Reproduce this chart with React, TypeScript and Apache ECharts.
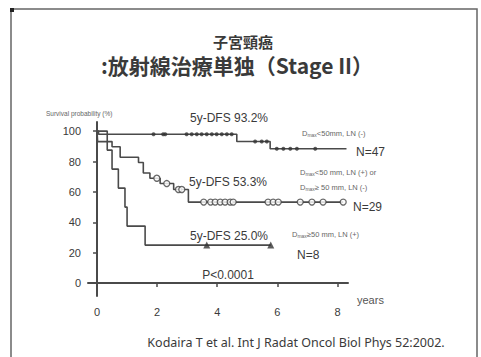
import React, { useEffect, useRef } from 'react';
import * as echarts from 'echarts';

const yTicks = [0, 20, 40, 60, 80, 100];
const xTicks = [0, 2, 4, 6, 8];

// Kaplan-Meier curves: [time (years), survival %] at each step
const curveN47: [number, number][] = [[0, 100], [0.05, 97.9], [4.65, 93.2], [5.76, 88.4], [8.3, 88.4]];
const censorN47 = [1.88, 2.2, 2.27, 2.98, 3.15, 3.32, 3.48, 3.65, 3.82, 3.98, 4.15, 4.32, 4.48, 5.26, 5.48, 5.65, 5.98, 6.2, 6.43, 6.65, 7.26];
const curveN29: [number, number][] = [[0, 100], [0.02, 93.1], [0.5, 89.7], [0.77, 82.8], [1.38, 79.3], [1.54, 72.4], [1.76, 69.0], [2.1, 65.5], [2.55, 61.6], [3.04, 53.3], [8.19, 53.3]];
const censorN29 = [1.99, 2.32, 2.71, 2.82, 3.55, 3.78, 3.93, 4.1, 4.26, 4.43, 4.53, 5.69, 5.86, 6.03, 6.76, 7.15, 7.52, 8.19];
const curveN8: [number, number][] = [[0, 100], [0.34, 87.5], [0.5, 75], [0.71, 62.5], [0.93, 50], [1.0, 37.5], [1.6, 25], [5.78, 25]];
const censorN8 = [3.65, 5.78];

const titleLine1 = '子宮頸癌';
const titleLine2 = ':放射線治療単独（Stage II）';
const citation = 'Kodaira T et al. Int J Radat Oncol Biol Phys 52:2002.';

function valueAt(curve: [number, number][], t: number): number {
  let v = curve[0][1];
  for (const [ct, cv] of curve) {
    if (ct <= t) v = cv;
  }
  return v;
}

const LINE = '#4a4a4a';
const TXT = '#3a3a3a';
const SANS = '"Liberation Sans", Arial, sans-serif';
const CJK = '"Noto Sans CJK JP", sans-serif';

export default function App() {
  const ref = useRef<HTMLDivElement>(null);
  useEffect(() => {
    if (!ref.current) return;
    const chart = echarts.init(ref.current, undefined, { renderer: 'svg' });
    const sub = (pre: string, post: string, size: number) => ({
      text: `{d|${pre}}{s|max}{n|${post}}`,
      rich: {
        d: { fontSize: size, fill: '#666', fontFamily: SANS },
        s: { fontSize: size - 2.5, fill: '#666', fontFamily: SANS, padding: [4, 0, 0, 0] },
        n: { fontSize: size, fill: '#666', fontFamily: SANS },
      },
    });
    chart.setOption({
      animation: false,
      backgroundColor: '#fff',
      grid: { left: 88, right: 133, top: 122, bottom: 61 },
      xAxis: {
        type: 'value',
        min: -0.3,
        max: 8.35,
        splitLine: { show: false },
        axisLine: { lineStyle: { color: LINE, width: 2 } },
        axisTick: { customValues: xTicks, length: 4, lineStyle: { color: LINE, width: 1.5 } },
        axisLabel: { customValues: xTicks, margin: 10, fontSize: 11, color: TXT, fontFamily: SANS },
      },
      yAxis: {
        type: 'value',
        min: -8.5,
        max: 106,
        splitLine: { show: false },
        axisLine: { show: true, lineStyle: { color: LINE, width: 2 } },
        axisTick: { show: true, customValues: yTicks, length: 4, lineStyle: { color: LINE, width: 1.5 } },
        axisLabel: { customValues: yTicks, margin: 7, fontSize: 11, color: TXT, fontFamily: SANS },
      },
      series: [
        { type: 'line', step: 'end', data: curveN47, symbol: 'none', lineStyle: { color: LINE, width: 1.6 }, z: 2 },
        { type: 'line', step: 'end', data: curveN29, symbol: 'none', lineStyle: { color: LINE, width: 1.6 }, z: 2 },
        { type: 'line', step: 'end', data: curveN8, symbol: 'none', lineStyle: { color: LINE, width: 1.6 }, z: 2 },
        {
          type: 'scatter', symbol: 'circle', symbolSize: 4,
          data: censorN47.map((t) => [t, valueAt(curveN47, t)]),
          itemStyle: { color: '#333' }, z: 3,
        },
        {
          type: 'scatter', symbol: 'circle', symbolSize: 6,
          data: censorN29.map((t) => [t, valueAt(curveN29, t)]),
          itemStyle: { color: '#fff', borderColor: '#444', borderWidth: 1.3 }, z: 3,
        },
        {
          type: 'scatter', symbol: 'triangle', symbolSize: 7,
          data: censorN8.map((t) => [t, valueAt(curveN8, t)]),
          itemStyle: { color: '#333' }, z: 3,
        },
      ],
      graphic: [
        { type: 'rect', shape: { x: 11, y: 9, width: 466, height: 360 }, style: { fill: 'none', stroke: '#666', lineWidth: 1.5 }, z: 0 },
        { type: 'rect', shape: { x: 10, y: 8, width: 4, height: 4 }, style: { fill: '#222' } },
        { type: 'text', x: 243, y: 41, style: { text: titleLine1, fontSize: 15, fontWeight: 'bold', fill: '#3a3a3a', fontFamily: CJK, align: 'center', verticalAlign: 'middle' } },
        { type: 'text', x: 237, y: 65, style: { text: titleLine2, fontSize: 21, fontWeight: 'bold', fill: '#3a3a3a', fontFamily: CJK, align: 'center', verticalAlign: 'middle' } },
        { type: 'text', x: 46, y: 113, style: { text: 'Survival probability (%)', fontSize: 6.5, fill: '#666', fontFamily: SANS, align: 'left', verticalAlign: 'middle' } },
        { type: 'text', x: 229, y: 118, style: { text: '5y-DFS 93.2%', fontSize: 12, fill: TXT, fontFamily: SANS, align: 'center', verticalAlign: 'middle' } },
        { type: 'text', x: 228, y: 182, style: { text: '5y-DFS 53.3%', fontSize: 12, fill: TXT, fontFamily: SANS, align: 'center', verticalAlign: 'middle' } },
        { type: 'text', x: 229, y: 236, style: { text: '5y-DFS 25.0%', fontSize: 12, fill: TXT, fontFamily: SANS, align: 'center', verticalAlign: 'middle' } },
        { type: 'text', x: 302, y: 133, style: { ...sub('D', '<50mm, LN (-)', 7.5), align: 'left', verticalAlign: 'middle' } },
        { type: 'text', x: 300, y: 172, style: { ...sub('D', '<50 mm, LN (+) or', 7.5), align: 'left', verticalAlign: 'middle' } },
        { type: 'text', x: 300, y: 187, style: { ...sub('D', '≥ 50 mm, LN (-)', 7.5), align: 'left', verticalAlign: 'middle' } },
        { type: 'text', x: 292, y: 234, style: { ...sub('D', '≥50 mm, LN (+)', 7.5), align: 'left', verticalAlign: 'middle' } },
        { type: 'text', x: 356, y: 152, style: { text: 'N=47', fontSize: 12, fill: TXT, fontFamily: SANS, align: 'left', verticalAlign: 'middle' } },
        { type: 'text', x: 353, y: 207, style: { text: 'N=29', fontSize: 12, fill: TXT, fontFamily: SANS, align: 'left', verticalAlign: 'middle' } },
        { type: 'text', x: 297, y: 255, style: { text: 'N=8', fontSize: 12, fill: TXT, fontFamily: SANS, align: 'left', verticalAlign: 'middle' } },
        { type: 'text', x: 228, y: 275, style: { text: 'P<0.0001', fontSize: 12, fill: TXT, fontFamily: SANS, align: 'center', verticalAlign: 'middle' } },
        { type: 'text', x: 357, y: 300, style: { text: 'years', fontSize: 11, fill: '#555', fontFamily: SANS, align: 'left', verticalAlign: 'middle' } },
        { type: 'text', x: 296, y: 342, style: { text: citation, fontSize: 12.5, fill: TXT, fontFamily: '"Noto Sans", sans-serif', align: 'center', verticalAlign: 'middle' } },
      ],
    });
    return () => chart.dispose();
  }, []);
  return <div ref={ref} style={{ position: 'absolute', left: 0, top: 0, width: 481, height: 357 }} />;
}
